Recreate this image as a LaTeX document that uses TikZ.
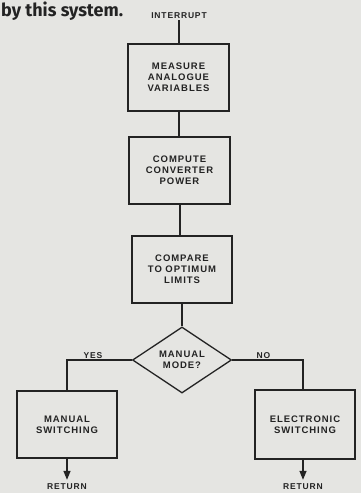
\documentclass[tikz,border=0pt]{standalone}
\usepackage{fontspec}
\usepackage{xcolor}
\usepackage{tikz}
\usetikzlibrary{shapes.geometric, arrows.meta, positioning, calc}
\setmainfont{Liberation Sans}[LetterSpace=10]
\newfontfamily\captionfont{Fira Sans}
\definecolor{paper}{RGB}{229,229,226}
\definecolor{ink}{RGB}{35,35,35}
\tikzset{
  procbox/.style={rectangle, draw=ink, fill=paper, minimum width=101pt,
    minimum height=67pt, align=center, font=\fontsize{9.5}{11}\selectfont\bfseries,
    text=ink, line width=1.3pt, inner sep=2pt},
  decide/.style={diamond, draw=ink, fill=paper, minimum width=99pt,
    minimum height=66pt, inner sep=0pt, align=center,
    font=\fontsize{9.5}{11}\selectfont\bfseries, text=ink, line width=1.3pt},
  term/.style={font=\fontsize{8.5}{10}\selectfont\bfseries, text=ink, inner sep=1pt},
  flowlabel/.style={font=\fontsize{8.5}{10}\selectfont\bfseries, text=ink, inner sep=1pt},
  line/.style={line width=1.3pt, color=ink},
  arrow/.style={-{Triangle[length=9pt, width=7pt]}, line width=1.3pt, color=ink}
}

\begin{document}
\begin{tikzpicture}[x=1pt, y=-1pt]
  \fill[paper] (0,0) rectangle (361,493);
  \useasboundingbox (0,0) rectangle (361,493);

  % Caption
  \node[anchor=base west, inner sep=0pt, font=\captionfont\fontsize{18}{20}\selectfont\bfseries, text=ink] (caption) at (1,16) {by this system.};

  % Nodes
  \node[term] (interrupt) at (179,16) {INTERRUPT};
  \node[procbox] (measure) at (178.5,77.5) {MEASURE\\ANALOGUE\\VARIABLES};
  \node[procbox] (compute) at (179.5,170.5) {COMPUTE\\CONVERTER\\POWER};
  \node[procbox, minimum width=100pt] (compare) at (182,269.5) {COMPARE\\TO OPTIMUM\\LIMITS};
  \node[decide] (mode) at (182,360) {MANUAL\\MODE?};
  \node[procbox, minimum width=100pt] (manual) at (67,424.5) {MANUAL\\SWITCHING};
  \node[procbox, minimum width=100pt, minimum height=69pt] (electronic) at (305,424.5) {ELECTRONIC\\SWITCHING};
  \node[term] (retleft) at (67,487) {RETURN};
  \node[term] (retright) at (303,487) {RETURN};

  % Connections
  \draw[line] (interrupt.south) -- (interrupt.south |- measure.north);
  \draw[line] (measure.south -| 179,0) -- (179,0 |- compute.north);
  \draw[line] (compute.south -| 180,0) -- (180,0 |- compare.north);
  \draw[line] (compare.south -| mode.north) -- (mode.north);
  \draw[line] (mode.west) -| (manual.north) node[pos=0.3, above, flowlabel] {YES};
  \draw[line] (mode.east) -| (retright |- electronic.north) node[pos=0.22, above, flowlabel] {NO};
  \draw[arrow, shorten >=3pt] (manual.south) -- (retleft.north);
  \draw[arrow, shorten >=3pt] (retright |- electronic.south) -- (retright.north);
\end{tikzpicture}
\end{document}
